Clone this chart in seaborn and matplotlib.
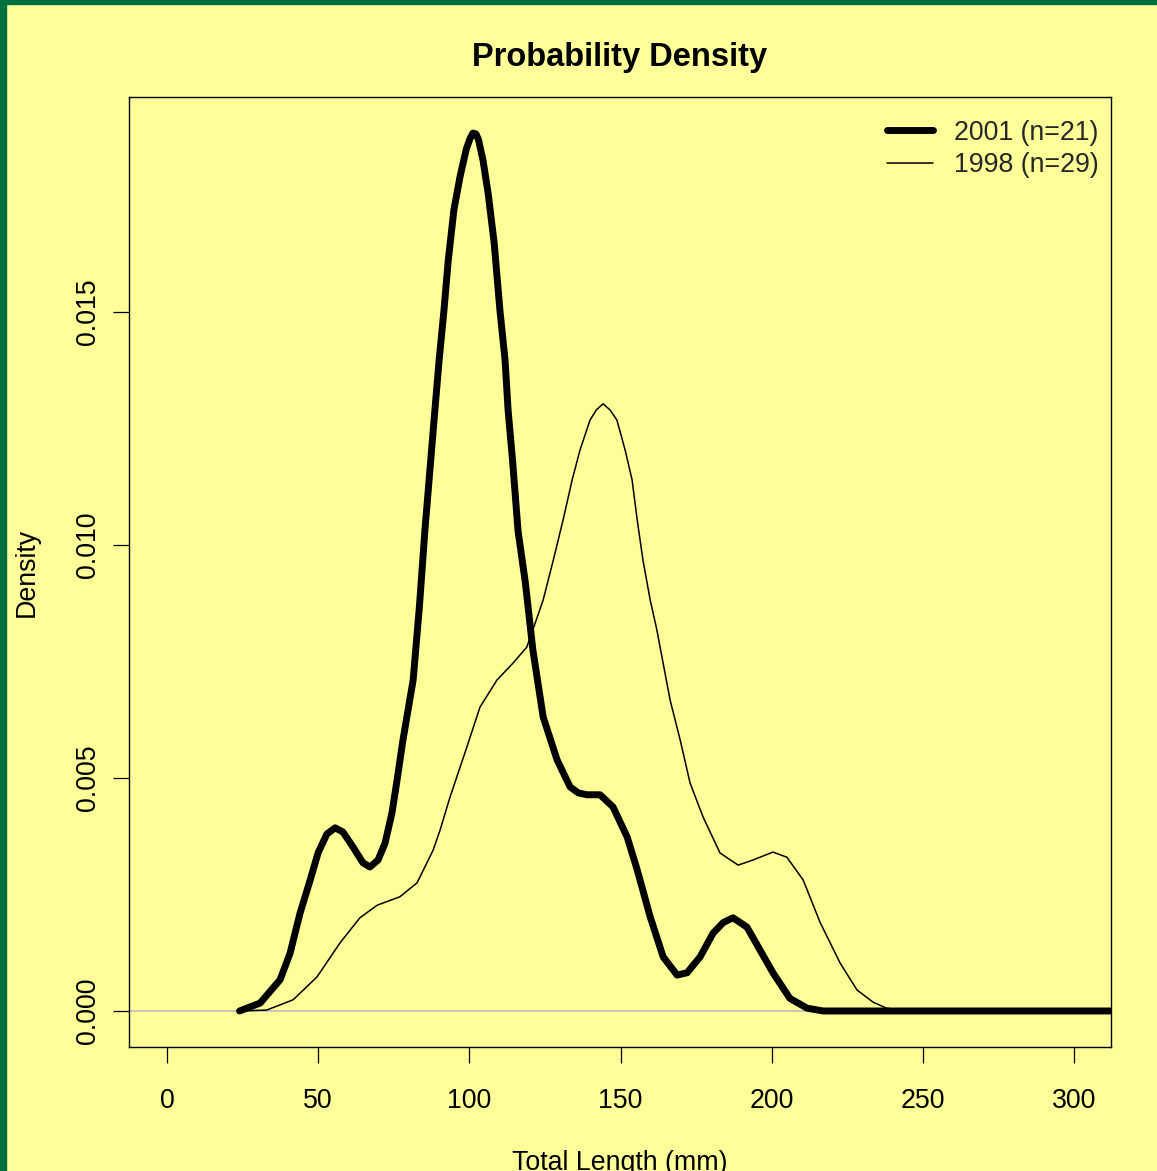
import matplotlib
matplotlib.use("Agg")
import matplotlib.pyplot as plt
import seaborn as sns
import pandas as pd
from matplotlib.lines import Line2D
from matplotlib.patches import Rectangle

# ---- data ----
x_2001 = [24, 30.8, 37.4, 40.7, 44, 47.3, 50, 52.9, 55.6, 58.2, 61.5, 64.8, 67.1, 69.8,
          72.1, 74.4, 76.1, 78, 81.4, 83.5, 85.3, 88.6, 90, 91.6, 93, 94.9, 96.9, 99,
          100.2, 101.2, 102.2, 103, 104.5, 106.2, 108.2, 110.1, 111.8, 112.8, 114.3, 116.1,
          118.5, 121, 124.4, 129, 133.3, 136, 138.9, 143.2, 147.5, 152.2, 155.5, 159.8,
          164.1, 168.7, 172, 176.3, 180.6, 184, 187.2, 191.8, 196.1, 200.4, 206, 211.7,
          217, 250, 312]
y_2001 = [0, 0.00017, 0.00067, 0.00124, 0.0021, 0.0028, 0.0034, 0.0038, 0.00393, 0.00384,
          0.00352, 0.00318, 0.00309, 0.00324, 0.0036, 0.00425, 0.00496, 0.0058, 0.0071,
          0.0087, 0.01032, 0.0129, 0.01397, 0.01504, 0.0161, 0.0172, 0.0179, 0.0185,
          0.01872, 0.01884, 0.01882, 0.0187, 0.01826, 0.01755, 0.01648, 0.01504, 0.01397,
          0.0129, 0.0118, 0.0103, 0.0092, 0.00775, 0.00631, 0.00539, 0.00481, 0.00468,
          0.00464, 0.00464, 0.00438, 0.00373, 0.00303, 0.00202, 0.00116, 0.00077, 0.00082,
          0.00116, 0.00167, 0.0019, 0.002, 0.0018, 0.00131, 0.00082, 0.00027, 0.00006, 0,
          0, 0]

x_1998 = [24, 33, 41.7, 49.6, 57.2, 63.8, 69.5, 77, 82.7, 88, 90.3, 93.6, 99.2, 103.5,
          109.1, 114.5, 119, 121, 124.4, 127.7, 131, 134, 136.6, 139.9, 142, 144.2, 146.5,
          148.8, 151.5, 153.8, 155.5, 157.4, 159.8, 162, 164.7, 166.4, 169.7, 173, 177.3,
          182.9, 188.9, 193.8, 200.4, 205, 210.4, 216, 222.6, 228.2, 233.5, 238, 245, 312]
y_1998 = [0, 0.00002, 0.00024, 0.00073, 0.00146, 0.002, 0.00227, 0.00245, 0.00275, 0.00345,
          0.00388, 0.00459, 0.00567, 0.00652, 0.0071, 0.00747, 0.00781, 0.00818, 0.00882,
          0.00966, 0.01054, 0.0114, 0.01204, 0.01268, 0.0129, 0.01303, 0.0129, 0.01268,
          0.01204, 0.0114, 0.01054, 0.00968, 0.00882, 0.00818, 0.00725, 0.00667, 0.00582,
          0.00489, 0.00416, 0.00339, 0.00313, 0.00324, 0.00341, 0.0033, 0.00281, 0.0019,
          0.00103, 0.00045, 0.00019, 0.00006, 0, 0]

series_labels = ["2001 (n=21)", "1998 (n=29)"]
x_ticks = [0, 50, 100, 150, 200, 250, 300]
y_ticks = [0.0, 0.005, 0.010, 0.015]
y_tick_labels = ["0.000", "0.005", "0.010", "0.015"]
title = "Probability Density"
x_label = "Total Length (mm)"
y_label = "Density"

# ---- style ----
sns.set_theme(style="white")
plt.rcParams["font.family"] = ["Liberation Sans", "DejaVu Sans"]
BG = "#FFFF99"
GREEN = "#00703F"
FS = 19.3

fig = plt.figure(figsize=(11.57, 11.71), dpi=100, facecolor=BG)
W, H = 1157, 1171
ax = fig.add_axes([129 / W, 1 - 1047 / H, (1111 - 129) / W, (1047 - 97) / H])
ax.set_facecolor(BG)

# green frame on top and left
fig.patches.append(Rectangle((0, 1 - 4 / H), 1, 4 / H, transform=fig.transFigure,
                             color=GREEN, zorder=10))
fig.patches.append(Rectangle((0, 0), 6 / W, 1, transform=fig.transFigure,
                             color=GREEN, zorder=10))

ax.axhline(0, color="#BEBEBE", lw=1.2, zorder=1)

df01 = pd.DataFrame({"x": x_2001, "y": y_2001})
df98 = pd.DataFrame({"x": x_1998, "y": y_1998})
sns.lineplot(data=df01, x="x", y="y", ax=ax, color="black", lw=5,
             sort=False, estimator=None, zorder=3, solid_capstyle="round",
             solid_joinstyle="round")
sns.lineplot(data=df98, x="x", y="y", ax=ax, color="black", lw=1.1,
             sort=False, estimator=None, zorder=2, solid_joinstyle="round")

ax.set_xlim(-12.57, 312.2)
ax.set_ylim(-0.000773, 0.019614)

ax.set_xticks(x_ticks)
ax.set_xticklabels([str(t) for t in x_ticks])
ax.set_yticks(y_ticks)
ax.set_yticklabels(y_tick_labels, rotation=90, va="center")

for s in ax.spines.values():
    s.set_color("black")
    s.set_linewidth(1.0)
    s.set_visible(True)

ax.tick_params(axis="both", which="both", direction="out", length=11.5, width=0.9,
               color="black", labelsize=FS, labelcolor="black",
               bottom=True, left=True)
ax.tick_params(axis="x", pad=18)
ax.tick_params(axis="y", pad=9)

ax.set_title(title, fontsize=23.5, fontweight="bold", color="black", pad=22)
ax.set_xlabel(x_label, fontsize=FS, color="black", labelpad=26)
ax.set_ylabel(y_label, fontsize=FS, color="black", labelpad=25)

handles = [Line2D([0], [0], color="black", lw=5, solid_capstyle="round"),
           Line2D([0], [0], color="black", lw=1.1)]
ax.legend(handles, series_labels, loc="upper right", frameon=False,
          fontsize=FS, handlelength=1.7, handletextpad=0.8, labelspacing=0.25,
          borderaxespad=0.45, bbox_to_anchor=(1.011, 1.0))

fig.savefig("out.png", dpi=100, facecolor=BG)
